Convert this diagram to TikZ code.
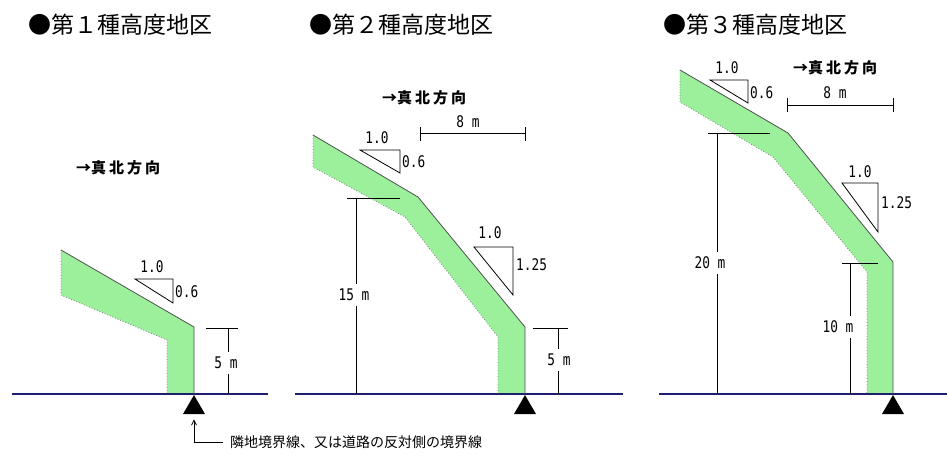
\documentclass[tikz,border=0pt]{standalone}
\usepackage{fontspec}
\setmainfont{Noto Sans CJK JP}
\newfontfamily\numfont[FakeStretch=0.8]{DejaVu Sans Mono}
\usetikzlibrary{shapes.geometric,arrows.meta}
\definecolor{band}{RGB}{156,240,156}
\definecolor{groundc}{RGB}{30,30,110}
\definecolor{edgec}{RGB}{80,80,80}
\tikzset{
 title/.style={font=\fontsize{23}{23}\selectfont, inner sep=0, anchor=west},
 northlab/.style={font=\fontsize{15}{15}\selectfont\bfseries, inner sep=0, anchor=west},
 num/.style={font=\numfont\fontsize{16}{16}\selectfont, inner sep=1pt},
 dimlab/.style={num, fill=white, inner ysep=5pt, inner xsep=1pt},
 bandfill/.style={fill=band, draw=none},
 outerline/.style={draw=edgec, line width=0.8pt},
 innerline/.style={draw=gray, dotted, line width=0.8pt},
 slopetri/.style={draw=black, line width=0.8pt},
 dimline/.style={draw=black, line width=0.9pt},
 groundline/.style={draw=groundc, line width=1.3pt},
 marker/.style={regular polygon, regular polygon sides=3, fill=black, inner sep=0, minimum size=25.4pt},
 note/.style={font=\fontsize{14}{14}\selectfont, inner sep=0, anchor=west},
}
\begin{document}
\begin{tikzpicture}[x=1pt,y=-1pt]
\useasboundingbox (0,0) rectangle (947,459);
% green bands
\path[bandfill] (61,250) -- (194,327) -- (194,394) -- (167,394) -- (167,340) -- (61,295) -- cycle;
\path[bandfill] (313,135) -- (418,197) -- (525,327) -- (525,394) -- (498,394) -- (498,337) -- (405,217) -- (313,167) -- cycle;
\path[bandfill] (680,70) -- (788,133) -- (893,262) -- (893,394) -- (867,394) -- (867,272) -- (773,157) -- (680,102) -- cycle;
% ground lines
\draw[groundline] (12,394) -- (268,394);
\draw[groundline] (295,394) -- (623,394);
\draw[groundline] (659,394) -- (947,394);
% band outlines
\draw[outerline] (61,250) -- (194,327) -- (194,394);
\draw[innerline] (61,250) -- (61,295) -- (167,340) -- (167,394);
\draw[outerline] (313,135) -- (418,197) -- (525,327) -- (525,394);
\draw[innerline] (313,135) -- (313,167) -- (405,217) -- (498,337) -- (498,394);
\draw[outerline] (680,70) -- (788,133) -- (893,262) -- (893,394);
\draw[innerline] (680,70) -- (680,102) -- (773,157) -- (867,272) -- (867,394);
% slope triangles
\draw[slopetri] (135,279) -- (173,279) -- (173,303) -- cycle;
\draw[slopetri] (360,150) -- (400,150) -- (400,173) -- cycle;
\draw[slopetri] (474,247) -- (513,247) -- (513,295) -- cycle;
\draw[slopetri] (710,80) -- (748,80) -- (748,103) -- cycle;
\draw[slopetri] (842,183) -- (878,183) -- (878,232) -- cycle;
% height dimensions
\draw[dimline] (206,328) -- (238,328);
\draw[dimline] (228,328) -- (228,394);
\draw[dimline] (347,198) -- (400,198);
\draw[dimline] (356,198) -- (356,394);
\draw[dimline] (533,328) -- (568,328);
\draw[dimline] (558,328) -- (558,394);
\draw[dimline] (708,133) -- (770,133);
\draw[dimline] (717,133) -- (717,394);
\draw[dimline] (842,263) -- (878,263);
\draw[dimline] (850,263) -- (850,394);
% 8 m dimensions
\draw[dimline] (420,133) -- (525,133);
\draw[dimline] (420,127) -- (420,141);
\draw[dimline] (525,127) -- (525,141);
\draw[dimline] (787,105) -- (893,105);
\draw[dimline] (787,98) -- (787,112);
\draw[dimline] (893,98) -- (893,112);
% markers
\node[marker] (m1) at (194,407.7) {};
\node[marker] (m2) at (525,407.7) {};
\node[marker] (m3) at (893,407.7) {};
% titles
\node[title] (t1) at (28,25) {●第１種高度地区};
\node[title] (t2) at (309,25) {●第２種高度地区};
\node[title] (t3) at (663,25) {●第３種高度地区};
% north labels
\node[northlab] (n1) at (76,168) {→真\hspace{3pt}北\hspace{3pt}方\hspace{3pt}向};
\node[northlab] (n2) at (382,98) {→真\hspace{3pt}北\hspace{3pt}方\hspace{3pt}向};
\node[northlab] (n3) at (793,68) {→真\hspace{3pt}北\hspace{3pt}方\hspace{3pt}向};
% slope labels
\node[num] (s1a) at (152,267) {1.0};
\node[num,anchor=west] (s1b) at (174,292) {0.6};
\node[num] (s2a) at (377,138) {1.0};
\node[num,anchor=west] (s2b) at (401,162) {0.6};
\node[num] (s2c) at (490,233) {1.0};
\node[num,anchor=west] (s2d) at (515,265) {1.25};
\node[num] (s3a) at (727,68) {1.0};
\node[num,anchor=west] (s3b) at (749,93) {0.6};
\node[num] (s3c) at (860,172) {1.0};
\node[num,anchor=west] (s3d) at (880,203) {1.25};
% distance labels
\node[num] (d2) at (468,122) {8 m};
\node[num] (d3) at (835,93) {8 m};
% height labels
\node[dimlab] (h1) at (226,363) {5 m};
\node[dimlab] (h2) at (354,295) {15 m};
\node[dimlab] (h3) at (559,360) {5 m};
\node[dimlab] (h4) at (710,263) {20 m};
\node[dimlab] (h5) at (838,327) {10 m};
% boundary note
\node[note] (bn) at (230,442) {隣地境界線、又は道路の反対側の境界線};
\draw[line width=0.8pt,-{Straight Barb[length=5pt,width=5pt]}] ([xshift=-7pt]bn.west) -| ([yshift=-5pt]m1.south);
\end{tikzpicture}
\end{document}
